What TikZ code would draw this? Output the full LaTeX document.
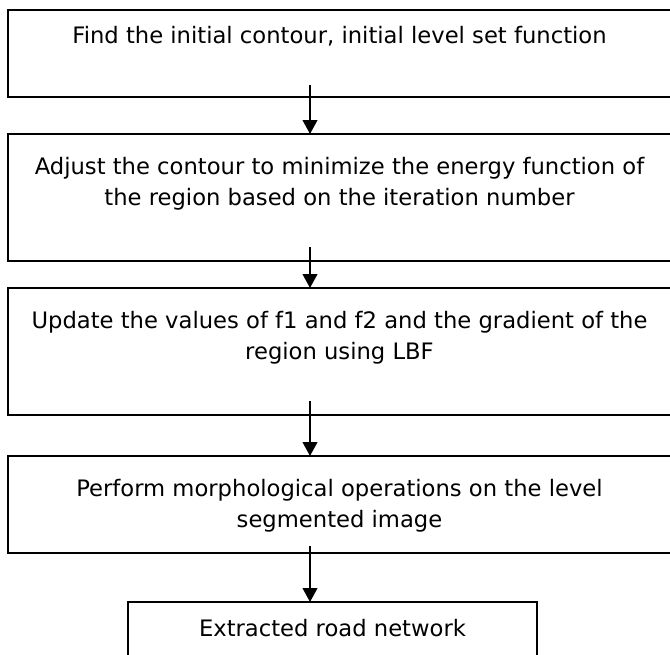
\documentclass[tikz,border=0pt]{standalone}
\usepackage{fontspec}
\setmainfont{DejaVu Sans}
\usetikzlibrary{arrows.meta, positioning}
\tikzstyle{stepbox} = [rectangle, 
draw=black, 
line width=1.2pt, 
inner sep=0pt, 
outer sep=0pt, 
minimum width=497.25pt]
\tikzstyle{steptext} = [align=center, 
inner sep=0pt, 
font=\fontsize{17}{23}\selectfont]
\tikzstyle{arrow} = [line width=1.5pt,-{Triangle[length=10.5pt,width=11pt]},draw=black]

\begin{document}
\begin{tikzpicture}[x=0.75pt, y=-0.75pt]

        \clip (0,0) rectangle (670,654);

        % Nodes
        \node (find) [stepbox, minimum height=65.25pt, anchor=north west] at (8,10) {};
        \node (adjust) [stepbox, minimum height=95.25pt, below=27.75pt of find.south west, anchor=north west] {};
        \node (update) [stepbox, minimum height=95.25pt, below=20.25pt of adjust.south west, anchor=north west] {};
        \node (morph) [stepbox, minimum height=72.75pt, below=30.75pt of update.south west, anchor=north west] {};
        \node (road) [stepbox, minimum width=306.75pt, minimum height=60pt, below=36.75pt of morph.south, anchor=north, xshift=-5.25pt] {};

        \node (findtxt) [steptext, below=12pt of find.north] {Find the initial contour, initial level set function};
        \node (adjusttxt) [steptext, below=17.5pt of adjust.north] {Adjust the contour to minimize the energy function of\\the region based on the iteration number};
        \node (updatetxt) [steptext, below=17.5pt of update.north] {Update the values of f1 and f2 and the gradient of the\\region using LBF};
        \node (morphtxt) [steptext, below=17.5pt of morph.north] {Perform morphological operations on the level\\segmented image};
        \node (roadtxt) [steptext, below=13pt of road.north] {Extracted road network};

        % Connections
        \coordinate (s1) at (310,85);
        \coordinate (s2) at (310,247);
        \coordinate (s3) at (310,401);
        \coordinate (s4) at (310,546);
        \draw [arrow] (s1) -- (s1 |- adjust.north);
        \draw [arrow] (s2) -- (s2 |- update.north);
        \draw [arrow] (s3) -- (s3 |- morph.north);
        \draw [arrow] (s4) -- (s4 |- road.north);

\end{tikzpicture}
\end{document}
